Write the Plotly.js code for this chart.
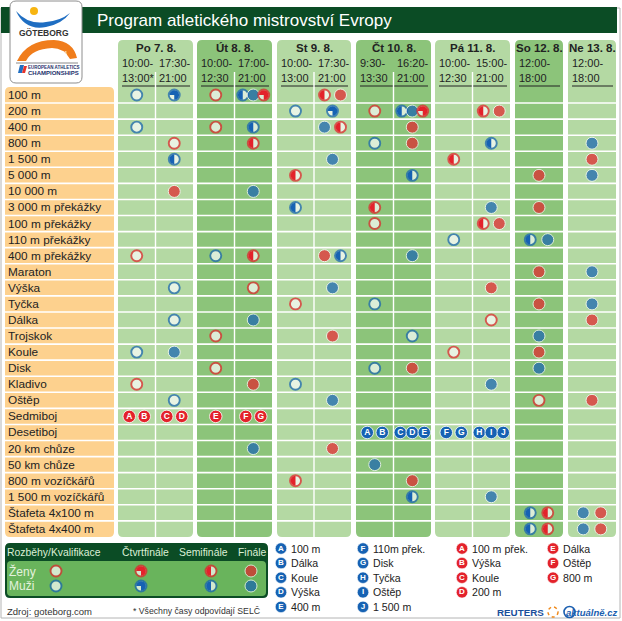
<!DOCTYPE html>
<html><head><meta charset="utf-8">
<script src="https://cdn.plot.ly/plotly-3.0.1.min.js"></script>
<style>html,body{margin:0;padding:0;background:#fff;}#chart{width:622px;height:621px;}</style>
</head><body><div id="chart"></div>
<script>
// ================= DATA =================
const events = ["100 m","200 m","400 m","800 m","1 500 m","5 000 m","10 000 m","3 000 m překážky",
  "100 m překážky","110 m překážky","400 m překážky","Maraton","Výška","Tyčka","Dálka","Trojskok",
  "Koule","Disk","Kladivo","Oštěp","Sedmiboj","Desetiboj","20 km chůze","50 km chůze",
  "800 m vozíčkářů","1 500 m vozíčkářů","Štafeta 4x100 m","Štafeta 4x400 m"];
const days = ["Po 7. 8.","Út 8. 8.","St 9. 8.","Čt 10. 8.","Pá 11. 8.","So 12. 8.","Ne 13. 8."];
const sessionDay  = [0,0,1,1,2,2,3,3,4,4,5,6];
const sessionFrom = ["10:00-","17:30-","10:00-","17:00-","10:00-","17:30-","9:30-","16:20-","10:00-","15:00-","12:00-","12:00-"];
const sessionTo   = ["13:00*","21:00","12:30","21:00","13:00","21:00","13:30","21:00","12:30","21:00","18:00","18:00"];

// schedule: event index, session index, gender (W = ženy, M = muži), stage (H rozběhy, Q čtvrtfinále, S semifinále, F finále)
const schedEvent = [0,0,0,0,0,0,0,0, 1,1,1,1,1,1,1,1, 2,2,2,2,2,2, 3,3,3,3,3,3, 4,4,4,4, 5,5,5,5, 6,6,
  7,7,7,7, 8,8,8, 9,9,9, 10,10,10,10,10,10, 11,11, 12,12,12,12, 13,13,13,13, 14,14,14,14, 15,15,15,15,
  16,16,16,16, 17,17,17,17, 18,18,18,18, 19,19,19,19, 22,22, 23, 24,24, 25,25, 26,26,26,26, 27,27,27,27];
const schedSession = [0,1,2,3,3,3,5,5, 4,5,6,7,7,7,9,9, 0,2,3,5,5,7, 1,3,6,7,9,11, 1,5,8,11, 4,7,10,11, 1,3,
  4,6,9,10, 6,9,9, 8,10,10, 0,2,3,5,5,7, 10,11, 1,3,5,9, 4,6,10,11, 1,3,9,11, 2,5,7,10,
  0,1,8,10, 2,6,7,10, 0,3,4,9, 1,5,10,11, 3,5, 6, 4,7, 7,9, 10,10,11,11, 10,10,11,11];
const schedGender = ["M","M","W","M","M","W","W","W", "M","M","W","M","M","W","W","W", "M","W","M","M","W","W",
  "W","W","M","W","M","M", "M","M","W","W", "W","M","W","M", "W","M", "M","W","M","W", "W","W","W", "M","M","M",
  "W","M","W","W","M","M", "W","M", "M","W","M","W", "W","M","W","M", "M","M","W","W", "W","W","M","M",
  "M","M","W","W", "W","M","W","M", "W","W","M","M", "M","M","W","W", "M","W", "M", "W","W", "M","M",
  "M","W","M","W", "M","W","M","W"];
const schedStage = ["H","Q","H","S","F","Q","S","F", "H","Q","H","S","F","Q","S","F", "H","H","S","F","S","F",
  "H","S","H","F","S","F", "S","F","S","F", "S","S","F","F", "F","F", "S","S","F","F", "H","S","F", "H","S","F",
  "H","H","S","F","S","F", "F","F", "H","H","F","F", "H","H","F","F", "H","F","H","F", "H","F","H","F",
  "H","F","H","F", "H","H","F","F", "H","F","H","F", "H","F","H","F", "F","F", "F", "S","F", "S","F",
  "S","S","F","F", "S","S","F","F"];

// combined events (Sedmiboj = ženy, Desetiboj = muži)
const heptaSession = [0,0,1,1,2,3,3];
const heptaLetter  = ["A","B","C","D","E","F","G"];
const heptaDiscipline = ["100 m přek.","Výška","Koule","200 m","Dálka","Oštěp","800 m"];
const decaSession = [6,6,7,7,7,8,8,9,9,9];
const decaLetter  = ["A","B","C","D","E","F","G","H","I","J"];
const decaDiscipline = ["100 m","Dálka","Koule","Výška","400 m","110m přek.","Disk","Tyčka","Oštěp","1 500 m"];

const stageNames = ["Rozběhy/Kvalifikace","Čtvrtfinále","Semifinále","Finále"];
const stageCodes = ["H","Q","S","F"];
const genderNames = ["Ženy","Muži"];
const genderCodes = ["W","M"];

// ================= STYLE / GEOMETRY =================
const RED='#e3222b', BLUE='#1662b3', LIGHT='#b4d9a3', DARK='#8cc47a', ORANGE='#fdd18e', DKGREEN='#0b4c25';
const REG="'Liberation Sans',Arial,sans-serif";
const G = { dayX:[[118,193],[197,272],[277,351],[356,431],[435,510],[515,563],[568,616]],
  dayDark:[0,1,0,1,0,1,0], blockTop:40, row0:95, pitch:16.07 };
const gcol = g => g==='W'?RED:BLUE;
const rowTop = i => G.row0 - G.pitch/2 + i*G.pitch;
const gridBottom = rowTop(events.length);

const nSess = days.map((d,i)=>sessionDay.filter(s=>s===i).length);
const sessL=[], sessR=[], sessC=[];
sessionDay.forEach((d,s)=>{
  const k = sessionDay.slice(0,s).filter(v=>v===d).length;
  const [x0,x1]=G.dayX[d]; const w=(x1-x0)/nSess[d];
  sessL.push(x0+k*w); sessR.push(x0+(k+1)*w); sessC.push(x0+(k+0.5)*w);
});

const shapes=[], ann=[];
function rr(x0,y0,x1,y1,r){return `M${x0+r},${y0} L${x1-r},${y0} Q${x1},${y0} ${x1},${y0+r} L${x1},${y1-r} Q${x1},${y1} ${x1-r},${y1} L${x0+r},${y1} Q${x0},${y1} ${x0},${y1-r} L${x0},${y0+r} Q${x0},${y0} ${x0+r},${y0} Z`;}
function S(o){shapes.push(Object.assign({xref:'x',yref:'y2',layer:'below'},o));}
function T(x,y,text,opt){ann.push(Object.assign({xref:'x',yref:'y2',x,y,text,showarrow:false,xanchor:'left',yanchor:'middle',borderpad:0,borderwidth:0,font:{family:REG,size:12,color:'#222'}},opt||{}));}

// frame, title bar
S({type:'rect',x0:1,x1:620,y0:8,y1:618,line:{color:'#b4b4b4',width:1},fillcolor:'rgba(0,0,0,0)'});
S({type:'rect',x0:1,x1:617,y0:7,y1:33,line:{width:0},fillcolor:DKGREEN});
T(97,20,'Program atletického mistrovství Evropy',{font:{family:REG,size:17,color:'#fff'}});

// logo
S({type:'path',path:rr(10,1,82,83,6),fillcolor:'#fff',line:{color:'#8e8e8e',width:1}});
S({type:'circle',x0:30,x1:38,y0:7,y1:15,fillcolor:'#f7b512',line:{width:0}});
S({type:'path',path:'M16,11 Q25,31 46,27 Q62,24 70,13 Q60,21 46,22 Q28,25 16,11 Z',fillcolor:'#1f6ec2',line:{width:0}});
T(44,33,'<b>GÖTEBORG</b>',{xanchor:'center',font:{family:REG,size:8.5,color:'#333'}});
S({type:'path',path:'M17,61 Q27,40 54,40 Q73,41 77,58 L70,59 Q64,48 52,48 Q32,49 26,61 Z',fillcolor:'#f07d1c',line:{width:0}});
T(62,53,'2006',{xanchor:'center',font:{family:REG,size:4.5,color:'#fff'}});
S({type:'line',x0:16,x1:78,y0:63,y1:63,line:{color:'#8a8a8a',width:1}});
S({type:'path',path:'M18,73 L20,65 L24,65 L22,73 Z',fillcolor:'#1f6ec2',line:{width:0}});
S({type:'path',path:'M22,73 L24,66 L27,66 L25,73 Z',fillcolor:'#e8332a',line:{width:0}});
T(28,67.5,'<b>EUROPEAN ATHLETICS</b>',{font:{family:REG,size:4.5,color:'#1d2f6b'}});
T(28,72.5,'<b>CHAMPIONSHIPS</b>',{font:{family:REG,size:6,color:'#1d2f6b'}});

// label column
S({type:'path',path:rr(5,rowTop(0),114,gridBottom,5),fillcolor:ORANGE,line:{width:0}});
for(let i=1;i<events.length;i++) S({type:'line',x0:5,x1:114,y0:rowTop(i),y1:rowTop(i),line:{color:'#fff',width:1.6}});
events.forEach(e=>ann.push({xref:'x',yref:'y',x:8,y:e,text:e,showarrow:false,xanchor:'left',yanchor:'middle',borderpad:0,borderwidth:0,font:{family:REG,size:11.8,color:'#222'}}));

// day blocks
days.forEach((d,di)=>{
  const [x0,x1]=G.dayX[di];
  S({type:'path',path:rr(x0,G.blockTop,x1,gridBottom,5),fillcolor:G.dayDark[di]?DARK:LIGHT,line:{width:0}});
  for(let i=1;i<events.length;i++) S({type:'line',x0:x0,x1:x1,y0:rowTop(i),y1:rowTop(i),line:{color:'#fff',width:1.6}});
  S({type:'line',x0:x0+4,x1:x1-3,y0:86,y1:86,line:{color:'#222',width:1}});
  T((x0+x1)/2,48,'<b>'+d+'</b>',{xanchor:'center',font:{family:REG,size:11.5,color:'#222'}});
});
sessionDay.forEach((d,s)=>{
  if(sessL[s]>G.dayX[d][0]+1) S({type:'line',x0:sessL[s],x1:sessL[s],y0:72,y1:gridBottom,line:{color:'#fff',width:1.4}});
  T(sessL[s]+3.5,62.5,sessionFrom[s],{font:{family:REG,size:11,color:'#222'}});
  T(sessL[s]+3.5,78,sessionTo[s],{font:{family:REG,size:11,color:'#222'}});
});

// ================= MARKS =================
function arcPts(r,a0,a1,n){const p=[];for(let k=0;k<=n;k++){const a=(a0+(a1-a0)*k/n)*Math.PI/180;p.push((r*Math.cos(a)).toFixed(2)+','+(r*Math.sin(a)).toFixed(2));}return p;}
function semiPath(r){return 'M'+arcPts(r,90,270,20).join(' L')+' Z';}
function quarterPath(r){return 'M0,0 L'+arcPts(r,180,-90,28).join(' L')+' Z';}
function partial(x,y,yref,stage,color,r){
  shapes.push({type:'path',xref:'x',yref,xsizemode:'pixel',ysizemode:'pixel',xanchor:x,yanchor:y,
    path:stage==='S'?semiPath(r):quarterPath(r),fillcolor:color,line:{width:0},layer:'above'});
}
function offsets(n,wide,combined){
  const sp = combined ? (n===3?12:15) : (n===3?10.5:(wide?17.5:16));
  return Array.from({length:n},(_,k)=>(k-(n-1)/2)*sp);
}
function groupOffsets(evArr,sessArr,combined){
  const cnt={},idx={},out=[];
  evArr.forEach((e,i)=>{const k=e+'|'+sessArr[i];cnt[k]=(cnt[k]||0)+1;});
  evArr.forEach((e,i)=>{const k=e+'|'+sessArr[i];const j=idx[k]||0;idx[k]=j+1;
    const wide=nSess[sessionDay[sessArr[i]]]===1;out.push(offsets(cnt[k],wide,combined)[j]);});
  return out;
}

const off = groupOffsets(schedEvent,schedSession,false);
const mk={x:[],y:[],size:[],color:[],lc:[],lw:[]};
schedEvent.forEach((e,i)=>{
  const x=sessC[schedSession[i]]+off[i], c=gcol(schedGender[i]), st=schedStage[i];
  mk.x.push(x); mk.y.push(events[e]);
  if(st==='F'){mk.size.push(12);mk.color.push(c);mk.lc.push('#fff');mk.lw.push(1);}
  else {mk.size.push(11);mk.color.push('#fff');mk.lc.push(c);mk.lw.push(1.9);
    if(st==='S'||st==='Q') partial(x,e,'y',st,c,4.8);}
});

// combined events letters
const hOff = groupOffsets(heptaSession.map(()=>20),heptaSession,true);
const dOff = groupOffsets(decaSession.map(()=>21),decaSession,true);
const letterTrace = (sess,offs,letters,ev,color)=>({type:'scatter',mode:'markers+text',
  x:sess.map((s,i)=>sessC[s]+offs[i]),y:sess.map(()=>events[ev]),text:letters,textposition:'middle center',
  textfont:{family:REG,size:8.5,color:'#fff',weight:'bold'},
  marker:{size:12.5,color,line:{color:'#fff',width:0.8}},cliponaxis:false,hoverinfo:'skip'});

// ================= LEGEND PANEL =================
S({type:'path',path:rr(5,543,268,598,5),fillcolor:DKGREEN,line:{width:0}});
S({type:'path',path:rr(7,561,266,596,4),fillcolor:'#69b45c',line:{width:0}});
const stageX=[56,141,211,251], stageTX=[7,122,179,238], genderY=[571,586];
stageNames.forEach((n,i)=>T(stageTX[i],552,n,{font:{family:REG,size:10.4,color:'#dcefd6'}}));
genderNames.forEach((n,i)=>T(9,genderY[i],n,{font:{family:REG,size:12,color:'#e4f2de'}}));
const lg={x:[],y:[],size:[],color:[],lc:[],lw:[]};
genderCodes.forEach((g,gi)=>stageCodes.forEach((st,si)=>{
  const c=gcol(g),x=stageX[si],y=genderY[gi];
  lg.x.push(x);lg.y.push(y);
  if(st==='F'){lg.size.push(12);lg.color.push(c);lg.lc.push('#fff');lg.lw.push(1);}
  else{lg.size.push(11);lg.color.push('#fff');lg.lc.push(c);lg.lw.push(1.9);
    if(st!=='H') partial(x,y,'y2',st,c,4.8);}
}));
T(7,611,'Zdroj: goteborg.com',{font:{family:REG,size:9.5,color:'#333'}});
T(133,611,'* Všechny časy odpovídají SELČ',{font:{family:REG,size:8.7,color:'#333'}});

// letter keys
const keyRowY = k => 548.5 + k*14.6;
const keyCols = [];
decaLetter.forEach((l,i)=>keyCols.push({l,t:decaDiscipline[i],c:BLUE,x:i<5?281:363,row:i%5}));
heptaLetter.forEach((l,i)=>keyCols.push({l,t:heptaDiscipline[i],c:RED,x:i<4?462:553,row:i<4?i:i-4}));
keyCols.forEach(k=>T(k.x+10,keyRowY(k.row),k.t,{font:{family:REG,size:10.6,color:'#222'}}));
const keyTrace={type:'scatter',mode:'markers+text',yaxis:'y2',x:keyCols.map(k=>k.x),y:keyCols.map(k=>keyRowY(k.row)),
  text:keyCols.map(k=>k.l),textposition:'middle center',textfont:{family:REG,size:8,color:'#fff',weight:'bold'},
  marker:{size:11.5,color:keyCols.map(k=>k.c),line:{color:'#fff',width:0.6}},cliponaxis:false,hoverinfo:'skip'};

// footer logos
T(497,612,'<b>REUTERS</b>',{font:{family:REG,size:9.8,color:'#1b4f9b'}});
S({type:'circle',x0:548,x1:558,y0:607,y1:617,fillcolor:'rgba(0,0,0,0)',line:{color:'#f08a1c',width:1.5,dash:'dot'}});
S({type:'circle',x0:564,x1:575,y0:606.5,y1:617.5,fillcolor:'rgba(0,0,0,0)',line:{color:'#1b5fb0',width:1.6}});
T(566,612,'<b><i>aktuálně.cz</i></b>',{font:{family:REG,size:9.5,color:'#1b5fb0'}});

// ================= PLOT =================
const yTop = (0 - G.row0)/G.pitch, yBot = (621 - G.row0)/G.pitch;
const traces = [
  {type:'scatter',mode:'markers',x:mk.x,y:mk.y,marker:{symbol:'circle',size:mk.size,color:mk.color,line:{color:mk.lc,width:mk.lw}},cliponaxis:false,hoverinfo:'skip'},
  letterTrace(heptaSession,hOff,heptaLetter,20,RED),
  letterTrace(decaSession,dOff,decaLetter,21,BLUE),
  {type:'scatter',mode:'markers',yaxis:'y2',x:lg.x,y:lg.y,marker:{symbol:'circle',size:lg.size,color:lg.color,line:{color:lg.lc,width:lg.lw}},cliponaxis:false,hoverinfo:'skip'},
  keyTrace
];
const layout = {width:622,height:621,margin:{l:0,r:0,t:0,b:0},paper_bgcolor:'#fff',plot_bgcolor:'#fff',showlegend:false,
  xaxis:{range:[0,622],visible:false,fixedrange:true},
  yaxis:{type:'category',categoryorder:'array',categoryarray:events,range:[yBot,yTop],visible:false,fixedrange:true},
  yaxis2:{range:[621,0],overlaying:'y',anchor:'x',visible:false,fixedrange:true},
  shapes,annotations:ann};
Plotly.newPlot('chart',traces,layout,{displayModeBar:false,staticPlot:true});
</script></body></html>
